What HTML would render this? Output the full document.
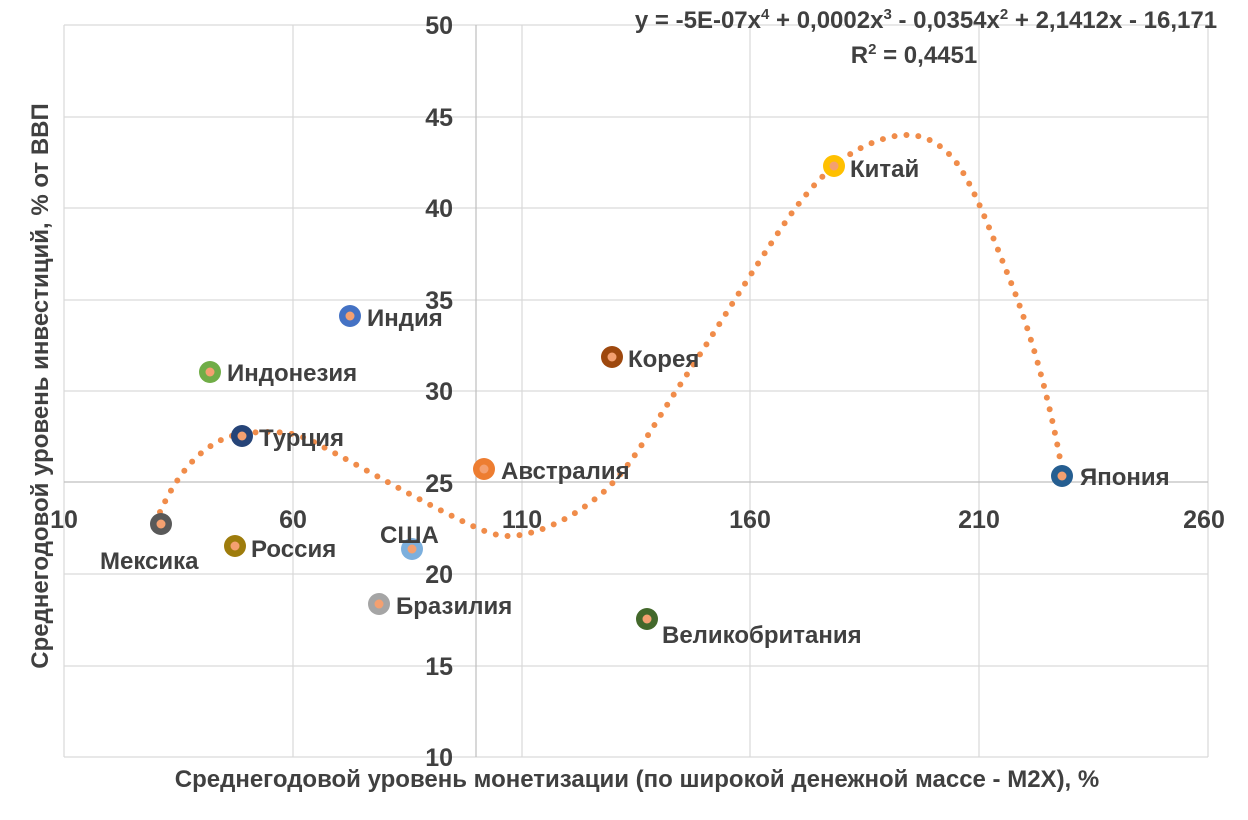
<!DOCTYPE html><html><head><meta charset="utf-8"><style>body{margin:0;background:#fff}svg text{font-family:"Liberation Sans",sans-serif;font-weight:bold;fill:#404040}</style></head><body>
<svg width="1248" height="815" xmlns="http://www.w3.org/2000/svg">
<g stroke="#d9d9d9" stroke-width="1.2">
<line x1="64" y1="25" x2="1208" y2="25"/><line x1="64" y1="117" x2="1208" y2="117"/><line x1="64" y1="208" x2="1208" y2="208"/><line x1="64" y1="300" x2="1208" y2="300"/><line x1="64" y1="391" x2="1208" y2="391"/><line x1="64" y1="574" x2="1208" y2="574"/><line x1="64" y1="666" x2="1208" y2="666"/><line x1="64" y1="757" x2="1208" y2="757"/>
<line x1="64" y1="25" x2="64" y2="757"/><line x1="293" y1="25" x2="293" y2="757"/><line x1="522" y1="25" x2="522" y2="757"/><line x1="750" y1="25" x2="750" y2="757"/><line x1="979" y1="25" x2="979" y2="757"/><line x1="1208" y1="25" x2="1208" y2="757"/>
</g>
<line x1="64" y1="482" x2="1208" y2="482" stroke="#bfbfbf" stroke-width="1.2"/>
<line x1="476" y1="25" x2="476" y2="757" stroke="#bfbfbf" stroke-width="1.2"/>
<g font-size="25" text-anchor="end">
<text x="453" y="34">50</text><text x="453" y="126">45</text><text x="453" y="217">40</text><text x="453" y="309">35</text><text x="453" y="400">30</text><text x="453" y="492">25</text><text x="453" y="583">20</text><text x="453" y="675">15</text><text x="453" y="766">10</text>
</g>
<g font-size="25" text-anchor="middle">
<text x="64" y="528">10</text><text x="293" y="528">60</text><text x="522" y="528">110</text><text x="750" y="528">160</text><text x="979" y="528">210</text><text x="1204" y="528">260</text>
</g>
<path d="M160,512 C170,490 185,465 205,450 S240,432 270,432 S310,440 340,456 S410,495 450,515 S500,538 520,535 S570,520 600,495 S650,430 680,385 S740,290 780,230 S850,150 880,140 S930,135 950,155 S990,230 1010,280 S1050,400 1062,470" fill="none" stroke="#f08c4a" stroke-width="6" stroke-linecap="round" stroke-dasharray="0 12"/>
<g>
<circle cx="161" cy="524" r="11" fill="#595959"/><circle cx="210" cy="372" r="11" fill="#70ad47"/><circle cx="242" cy="436" r="11" fill="#264478"/><circle cx="235" cy="546" r="11" fill="#9e7c0c"/><circle cx="350" cy="316" r="11" fill="#4472c4"/><circle cx="412" cy="549" r="11" fill="#7cafdd"/><circle cx="379" cy="604" r="11" fill="#a5a5a5"/><circle cx="484" cy="469" r="11" fill="#ed7d31"/><circle cx="612" cy="357" r="11" fill="#9e480e"/><circle cx="647" cy="619" r="11" fill="#43682b"/><circle cx="834" cy="166" r="11" fill="#ffc000"/><circle cx="1062" cy="476" r="11" fill="#255e91"/>
</g>
<g fill="#f4a070">
<circle cx="161" cy="524" r="4.5"/><circle cx="210" cy="372" r="4.5"/><circle cx="242" cy="436" r="4.5"/><circle cx="235" cy="546" r="4.5"/><circle cx="350" cy="316" r="4.5"/><circle cx="412" cy="549" r="4.5"/><circle cx="379" cy="604" r="4.5"/><circle cx="484" cy="469" r="4.5"/><circle cx="612" cy="357" r="4.5"/><circle cx="647" cy="619" r="4.5"/><circle cx="834" cy="166" r="4.5"/><circle cx="1062" cy="476" r="4.5"/>
</g>
<g font-size="24">
<text x="100" y="569">Мексика</text><text x="227" y="381">Индонезия</text><text x="259" y="446">Турция</text><text x="251" y="557">Россия</text><text x="367" y="326">Индия</text><text x="380" y="543">США</text><text x="396" y="614">Бразилия</text><text x="501" y="479">Австралия</text><text x="628" y="367">Корея</text><text x="662" y="643">Великобритания</text><text x="850" y="177">Китай</text><text x="1080" y="485">Япония</text>
</g>
<text x="926" y="28" font-size="24" text-anchor="middle">y = -5E-07x<tspan font-size="15" dy="-9">4</tspan><tspan dy="9"> + 0,0002x</tspan><tspan font-size="15" dy="-9">3</tspan><tspan dy="9"> - 0,0354x</tspan><tspan font-size="15" dy="-9">2</tspan><tspan dy="9"> + 2,1412x - 16,171</tspan></text>
<text x="914" y="63" font-size="24" text-anchor="middle">R<tspan font-size="15" dy="-9">2</tspan><tspan dy="9"> = 0,4451</tspan></text>
<text x="637" y="787" font-size="24" text-anchor="middle">Среднегодовой уровень монетизации (по широкой денежной массе - M2X), %</text>
<text transform="translate(48,386) rotate(-90)" font-size="24" text-anchor="middle">Среднегодовой уровень инвестиций, % от ВВП</text>
</svg>
</body></html>
